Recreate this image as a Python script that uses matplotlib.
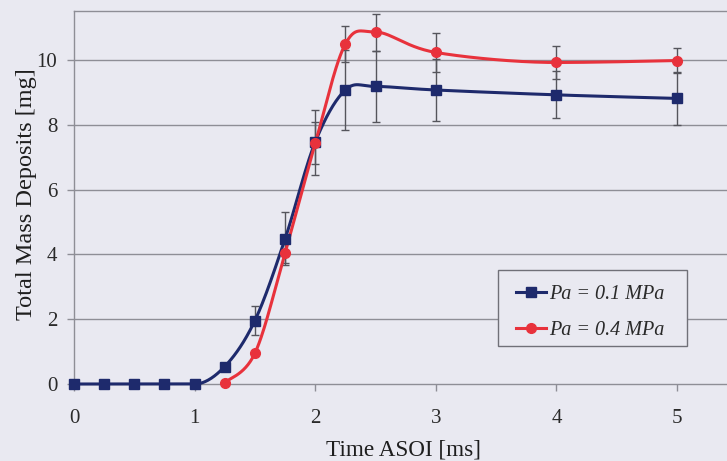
import numpy as np
import matplotlib
matplotlib.use("Agg")
import matplotlib.pyplot as plt
from matplotlib.patches import Rectangle

# Measured deposits for the two injection pressures
time_low = [0.0, 0.25, 0.5, 0.75, 1.0, 1.25, 1.5, 1.75, 2.0, 2.25, 2.5, 3.0, 4.0, 5.0]
mass_low = [0.0, 0.0, 0.0, 0.0, 0.0, 0.54, 1.96, 4.48, 7.47, 9.08, 9.19, 9.08, 8.93, 8.82]
err_low = [0.0, 0.0, 0.0, 0.0, 0.0, 0.0, 0.45, 0.82, 1.0, 1.24, 1.09, 0.95, 0.73, 0.83]

time_high = [1.25, 1.5, 1.75, 2.0, 2.25, 2.5, 3.0, 4.0, 5.0]
mass_high = [0.04, 0.95, 4.05, 7.43, 10.5, 10.87, 10.24, 9.93, 9.99]
err_high = [0.0, 0.0, 0.3, 0.65, 0.56, 0.57, 0.6, 0.51, 0.39]

labels = ["Pa = 0.1 MPa", "Pa = 0.4 MPa"]
x_ticks = [0, 1, 2, 3, 4, 5]
y_ticks = [0, 2, 4, 6, 8, 10]

BG = "#E9E9F1"
GRID = "#8E8E96"
BLUE = "#1E2A6C"
RED = "#E8323C"
SERIF = ["Liberation Serif", "DejaVu Serif"]
W, H = 727, 461


def smooth(xs, ys, n=30):
    """Smoothed Bezier curve through the points; flat tangents at extrema
    and next to level runs so the curve never overshoots there."""
    p = np.column_stack([xs, ys]).astype(float)
    m = len(p)
    tang = np.zeros_like(p)
    for i in range(m):
        a = p[max(i - 1, 0)]
        b = p[min(i + 1, m - 1)]
        tang[i] = (b - a) / 6.0
        if 0 < i < m - 1:
            d1 = p[i, 1] - p[i - 1, 1]
            d2 = p[i + 1, 1] - p[i, 1]
            if d1 * d2 <= 0:
                tang[i, 1] = 0.0
    out = []
    t = np.linspace(0, 1, n)[:, None]
    for i in range(m - 1):
        p1, p2 = p[i], p[i + 1]
        c1 = p1 + tang[i]
        c2 = p2 - tang[i + 1]
        seg = ((1 - t) ** 3) * p1 + 3 * ((1 - t) ** 2) * t * c1 + 3 * (1 - t) * t ** 2 * c2 + t ** 3 * p2
        out.append(seg if i == 0 else seg[1:])
    out = np.vstack(out)
    return out[:, 0], out[:, 1]


fig = plt.figure(figsize=(W / 100, H / 100), dpi=100, facecolor=BG)
ax = fig.add_axes([74 / W, (H - 384) / H, (W - 74) / W, (384 - 11) / H])
ax.set_facecolor(BG)

ax.set_xlim(0, (W - 74) / 120.6)
ax.set_ylim(0, 11.52)

for y in y_ticks[1:]:
    ax.axhline(y, color=GRID, lw=1.0, zorder=1)

for t, m, e in [(time_low, mass_low, err_low), (time_high, mass_high, err_high)]:
    t = np.array(t); m = np.array(m); e = np.array(e)
    k = e > 0
    ax.errorbar(t[k], m[k], yerr=e[k], fmt="none", ecolor="#55555C", elinewidth=1.0,
                capsize=3, capthick=1.0, zorder=2, clip_on=False)

for t, m, col, mk, lab in [(time_low, mass_low, BLUE, "s", labels[0]),
                           (time_high, mass_high, RED, "o", labels[1])]:
    sx, sy = smooth(t, m)
    ax.plot(sx, sy, color=col, lw=2.2, zorder=3, clip_on=False)
    ax.plot(t, m, linestyle="none", marker=mk, ms=7, color=col, zorder=4, clip_on=False)
    ax.plot([], [], color=col, lw=2.2, marker=mk, ms=7, label=lab)

ax.set_xticks(x_ticks)
ax.set_yticks(y_ticks)
ax.tick_params(direction="out", length=5, width=1, color=GRID, labelsize=15)
ax.tick_params(axis="x", pad=13)
ax.tick_params(axis="y", pad=7)
for lbl in ax.get_xticklabels() + ax.get_yticklabels():
    lbl.set_family(SERIF)
    lbl.set_color("#2A2A2A")

for side in ["left", "bottom", "top"]:
    ax.spines[side].set_color(GRID)
    ax.spines[side].set_linewidth(1.0)
ax.spines["right"].set_visible(False)

ax.set_xlabel("Time ASOI [ms]", family=SERIF, fontsize=16.7, color="#1E1E1E")
ax.set_ylabel("Total Mass Deposits [mg]", family=SERIF, fontsize=17.5, color="#1E1E1E")
ax.xaxis.set_label_coords(329 / 653, -0.150)
ax.yaxis.set_label_coords(-0.057, 0.508)

# legend box, drawn inside the axes so the legend entries sit on top of it
box = Rectangle((498 / W, 1 - 346 / H), (687 - 498) / W, (346 - 270) / H,
                transform=fig.transFigure, facecolor=BG, edgecolor="#707078",
                linewidth=1.0, zorder=5, clip_on=False)
ax.add_patch(box)
leg = ax.legend(loc="upper left", bbox_to_anchor=(516 / W, 1 - 285 / H),
                bbox_transform=fig.transFigure, frameon=False,
                prop={"family": SERIF, "style": "italic", "size": 14.5},
                handlelength=1.5, handletextpad=0.15, borderpad=0, labelspacing=0.85,
                borderaxespad=0)
leg.set_zorder(6)
for txt in leg.get_texts():
    txt.set_color("#2A2A2A")

fig.savefig("out.png", dpi=100, facecolor=BG)
